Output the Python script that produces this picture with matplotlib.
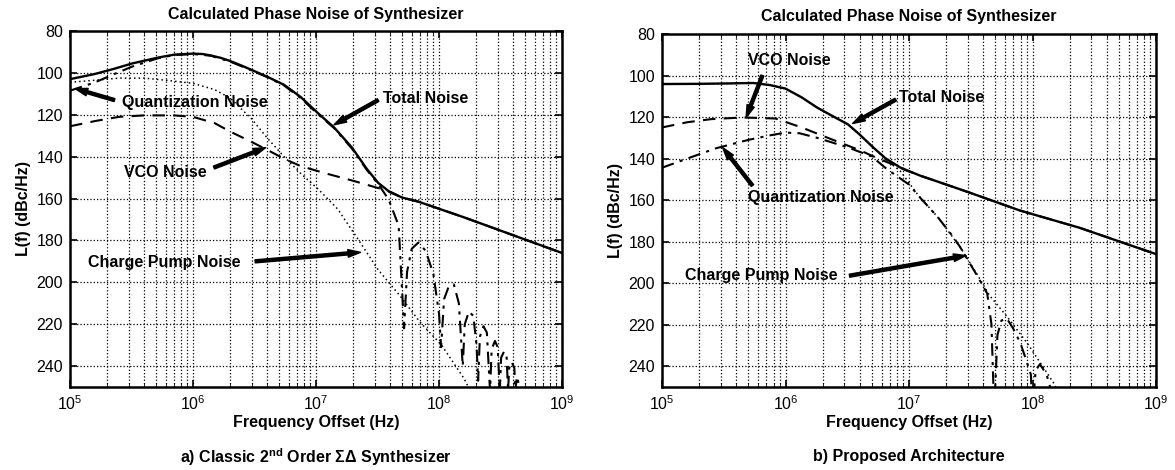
import matplotlib
matplotlib.use("Agg")
import matplotlib.pyplot as plt
from matplotlib.ticker import LogLocator, NullFormatter

plt.rcParams['font.family'] = ['Liberation Sans', 'DejaVu Sans']
plt.rcParams['mathtext.fontset'] = 'custom'
plt.rcParams['mathtext.rm'] = 'Liberation Sans'
plt.rcParams['mathtext.bf'] = 'Liberation Sans:bold'

# ---- panel a) classic 2nd order sigma-delta ----
a_tot_f = [1e5, 1.6e5, 2.3e5, 3.2e5, 5.2e5, 7e5, 1e6, 1.2e6, 1.4e6, 1.7e6, 2e6, 2.5e6,
           3e6, 4e6, 5.5e6, 7.5e6, 1.05e7, 1.4e7, 1.95e7, 2.6e7, 3.2e7, 4e7, 5e7,
           6.8e7, 1.6e8, 4e8, 1e9]
a_tot_v = [103, 100.5, 98, 95.5, 92.7, 91.3, 90.8, 91.0, 91.7, 92.9, 94.3, 96.6,
           98.6, 101.8, 105.7, 111.5, 119.5, 126, 135.5, 146, 152.5, 157, 159.5,
           161.5, 169, 177.5, 186]

a_q_f = [1e5, 1.6e5, 2.3e5, 3.2e5, 5.2e5, 7e5, 1e6, 1.4e6, 2e6, 3e6, 4e6, 5.5e6,
         7.5e6, 1.05e7, 1.4e7, 1.95e7, 2.6e7, 3.2e7, 3.9e7, 4.7e7, 5.2e7,
         5.5e7, 6.0e7, 6.8e7, 7.8e7, 9.0e7, 1.0e8, 1.04e8,
         1.1e8, 1.2e8, 1.32e8, 1.45e8, 1.56e8,
         1.62e8, 1.75e8, 1.9e8, 2.02e8, 2.08e8,
         2.15e8, 2.3e8, 2.45e8, 2.6e8,
         2.68e8, 2.85e8, 3.0e8, 3.12e8,
         3.2e8, 3.38e8, 3.55e8, 3.64e8,
         3.72e8, 3.9e8, 4.1e8, 4.16e8, 4.3e8, 4.6e8]
a_q_v = [108.5, 104.5, 100.5, 97, 93, 91.5, 91, 91.8, 94.6, 98.8, 102, 106,
         112, 120, 126.3, 136, 146.5, 153, 160.5, 173, 222,
         195, 184, 181, 185, 196, 215, 231,
         208, 202, 201, 210, 240,
         220, 214, 216, 230, 247,
         226, 221, 224, 252,
         232, 228, 231, 252,
         236, 233, 236, 252,
         241, 238, 241, 252, 245, 252]

a_cp_f = [1e5, 1.6e5, 2.5e5, 4e5, 6e5, 1e6, 1.5e6, 2e6, 3e6, 4e6, 5.5e6, 7.5e6,
          1.05e7, 1.5e7, 2.2e7, 3.2e7, 4.9e7, 7e7, 1.05e8, 1.6e8, 1.8e8]
a_cp_v = [104.5, 103.5, 102.5, 102.5, 103.5, 105, 108, 112, 122, 131, 140, 148,
          155.7, 165, 179.5, 194, 207, 219, 230, 246, 252]

a_vco_f = [1e5, 1.6e5, 2.5e5, 4e5, 7e5, 1e6, 1.5e6, 2e6, 3e6, 4e6, 5.5e6, 7.5e6,
           1.2e7, 2e7, 3.2e7, 4.1e7, 5e7, 6.8e7, 1.6e8, 4e8, 1e9]
a_vco_v = [125.5, 123, 121, 120.3, 120.3, 121, 124, 128, 133, 136.7, 141, 144.5,
           148, 151.5, 155, 157, 159.5, 161.5, 169, 177.5, 186]

# ---- panel b) proposed architecture ----
b_tot_f = [1e5, 2e5, 3.5e5, 5.5e5, 7.5e5, 1e6, 1.35e6, 1.8e6, 2.4e6, 3.2e6, 4e6,
           5.1e6, 6.5e6, 8.5e6, 1.23e7, 2e7, 3.1e7, 7.9e7, 2.4e8, 1e9]
b_tot_v = [104.1, 104, 103.8, 103.6, 104.6, 106.3, 110.5, 115.4, 119.5, 123.5, 128.5,
           134.5, 140, 144.3, 148.2, 152.5, 156.4, 165, 173.3, 186]

b_vco_f = [1e5, 1.6e5, 2.5e5, 4.5e5, 8.3e5, 1.35e6, 2.5e6, 4e6, 5.4e6, 7.5e6, 9.3e6,
           1.23e7, 2e7, 3.1e7, 7.9e7, 2.4e8, 1e9]
b_vco_v = [125, 122.5, 121, 120.2, 120.7, 125, 131.3, 136, 139.5, 143, 145.5,
           148.2, 152.5, 156.4, 165, 173.3, 186]

b_q_f = [1e5, 1.6e5, 2.75e5, 5e5, 7.5e5, 1e6, 1.3e6, 1.8e6, 3.2e6, 5e6, 6.6e6,
         1e7, 1.23e7, 1.7e7, 2.3e7, 2.6e7, 3.5e7, 4.3e7, 4.65e7, 4.9e7,
         5.2e7, 5.6e7, 6.2e7, 7e7, 8e7, 9e7, 9.7e7, 1e8,
         1.06e8, 1.15e8, 1.3e8, 1.42e8]
b_q_v = [144.4, 140, 135, 131, 128.8, 127.5, 127.8, 130, 134.6, 139, 145,
         152.5, 158.8, 168, 178, 182.7, 195.6, 205, 219.7, 262,
         225, 218, 217, 222, 229, 238, 244, 262,
         242, 239, 244, 252]

b_cp_f = [1e5, 2e5, 3.5e5, 5.5e5, 7.5e5, 1e6, 1.35e6, 1.8e6, 2.4e6, 3.2e6, 4e6,
          5.1e6, 6.5e6, 8.5e6, 1.2e7, 1.7e7, 2.6e7, 3.5e7, 4.5e7, 6.2e7, 9.1e7,
          1.48e8, 1.6e8]
b_cp_v = [104.1, 104, 103.8, 103.6, 104.6, 106.3, 110.5, 115.4, 119.5, 123.5, 128.5,
          134.5, 140.5, 146, 158, 168, 182.7, 195, 206, 216, 229, 248, 252]

yticks = [80, 100, 120, 140, 160, 180, 200, 220, 240]

fig = plt.figure(figsize=(11.75, 4.7), dpi=100)
ax_a = fig.add_axes([70 / 1175, 1 - 387 / 470, 492 / 1175, 356 / 470])
ax_b = fig.add_axes([662 / 1175, 1 - 387 / 470, 494 / 1175, 353 / 470])

arrow = dict(arrowstyle='simple,head_width=0.55,head_length=0.9,tail_width=0.22',
             fc='black', ec='black', shrinkA=0, shrinkB=0)


def setup(ax):
    ax.set_xscale('log')
    ax.set_xlim(1e5, 1e9)
    ax.set_ylim(250, 80)
    ax.set_yticks(yticks)
    ax.xaxis.set_major_locator(LogLocator(base=10, numticks=10))
    ax.xaxis.set_minor_locator(LogLocator(base=10, subs=range(2, 10), numticks=50))
    ax.xaxis.set_minor_formatter(NullFormatter())
    ax.grid(True, which='major', linestyle=':', color='black', lw=0.9)
    ax.grid(True, which='minor', axis='x', linestyle=':', color='black', lw=0.9)
    ax.tick_params(which='both', direction='in', top=True, right=True,
                   labelsize=11.5, pad=5)
    ax.tick_params(which='major', length=5, width=1.2)
    ax.tick_params(which='minor', length=3)
    for s in ax.spines.values():
        s.set_linewidth(1.8)
    ax.set_title('Calculated Phase Noise of Synthesizer', fontsize=11.5,
                 fontweight='bold', pad=9)
    ax.set_xlabel('Frequency Offset (Hz)', fontsize=11.5, fontweight='bold',
                  labelpad=2)
    ax.set_ylabel('L(f) (dBc/Hz)', fontsize=11.5, fontweight='bold', labelpad=4)


def note(ax, txt, tx, ty, ax0, ay0, ax1, ay1):
    ax.text(tx, ty, txt, fontsize=11.5, fontweight='bold', ha='left', va='center')
    ax.annotate('', xy=(ax1, ay1), xytext=(ax0, ay0), arrowprops=arrow)


# panel a
setup(ax_a)
ax_a.plot(a_cp_f, a_cp_v, color='black', lw=1.1, linestyle=(0, (1, 2)))
ax_a.plot(a_vco_f, a_vco_v, color='black', lw=1.5, linestyle=(0, (6, 4)))
ax_a.plot(a_q_f, a_q_v, color='black', lw=1.5, linestyle=(0, (6, 3, 1.5, 3)))
ax_a.plot(a_tot_f, a_tot_v, color='black', lw=1.7)
note(ax_a, 'Quantization Noise', 2.65e5, 114.3, 2.3e5, 113, 1.1e5, 107.5)
note(ax_a, 'Total Noise', 3.5e7, 112.4, 3.2e7, 113, 1.4e7, 124.8)
note(ax_a, 'VCO Noise', 2.75e5, 147.6, 1.48e6, 145.2, 3.9e6, 135.7)
note(ax_a, 'Charge Pump Noise', 1.4e5, 190.5, 3.2e6, 190, 2.3e7, 185.7)

# panel b
setup(ax_b)
ax_b.plot(b_cp_f, b_cp_v, color='black', lw=1.1, linestyle=(0, (1, 2)))
ax_b.plot(b_vco_f, b_vco_v, color='black', lw=1.5, linestyle=(0, (6, 4)))
ax_b.plot(b_q_f, b_q_v, color='black', lw=1.5, linestyle=(0, (6, 3, 1.5, 3)))
ax_b.plot(b_tot_f, b_tot_v, color='black', lw=1.7)
note(ax_b, 'VCO Noise', 5e5, 92.8, 6.5e5, 100, 4.8e5, 120.2)
note(ax_b, 'Total Noise', 8.3e6, 110.6, 7.8e6, 111.6, 3.5e6, 123.1)
note(ax_b, 'Quantization Noise', 5e5, 158.8, 5.4e5, 153, 3.1e5, 134.7)
note(ax_b, 'Charge Pump Noise', 1.54e5, 196.4, 3.3e6, 196.4, 2.9e7, 186.7)

fig.text(316 / 1175, 1 - 457 / 470,
         r'a) Classic 2$^{\mathbf{nd}}$ Order ΣΔ Synthesizer',
         ha='center', va='center', fontsize=11.5, fontweight='bold')
fig.text(909 / 1175, 1 - 457 / 470, 'b) Proposed Architecture',
         ha='center', va='center', fontsize=11.5, fontweight='bold')

fig.savefig('out.png', dpi=100)
